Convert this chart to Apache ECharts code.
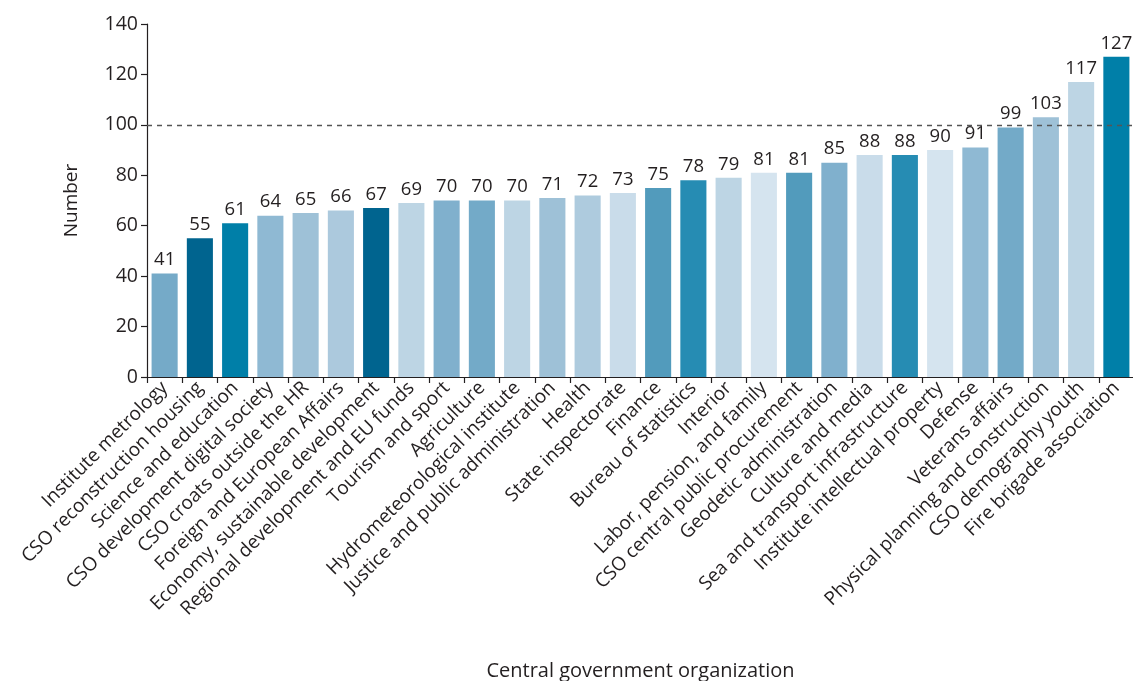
<!DOCTYPE html>
<html>
<head>
<meta charset="utf-8">
<script src="https://cdn.jsdelivr.net/npm/echarts@6/dist/echarts.min.js"></script>
<style>
  html, body { margin: 0; padding: 0; background: #ffffff; }
  #chart { width: 1133px; height: 681px; }
</style>
</head>
<body>
<div id="chart"></div>
<script>
// Staff counts per central government organization
const categories = [
  'Institute metrology',
  'CSO reconstruction housing',
  'Science and education',
  'CSO development digital society',
  'CSO croats outside the HR',
  'Foreign and European Affairs',
  'Economy, sustainable development',
  'Regional development and EU funds',
  'Tourism and sport',
  'Agriculture',
  'Hydrometeorological institute',
  'Justice and public administration',
  'Health',
  'State inspectorate',
  'Finance',
  'Bureau of statistics',
  'Interior',
  'Labor, pension, and family',
  'CSO central public procurement',
  'Geodetic administration',
  'Culture and media',
  'Sea and transport infrastructure',
  'Institute intellectual property',
  'Defense',
  'Veterans affairs',
  'Physical planning and construction',
  'CSO demography youth',
  'Fire brigade association'
];

const values = [41, 55, 61, 64, 65, 66, 67, 69, 70, 70, 70, 71, 72, 73, 75, 78, 79, 81, 81, 85, 88, 88, 90, 91, 99, 103, 117, 127];

const barColors = [
  '#75aac8', '#00648f', '#007fa8', '#8fb9d3', '#9ec1d7', '#acc9dd', '#00648f',
  '#bdd5e4', '#80b0cd', '#73aac8', '#bdd5e4', '#9ec1d7', '#aecbde', '#c9dcea',
  '#529bbc', '#268cb3', '#bdd5e4', '#d5e4ef', '#529bbc', '#80b0cd', '#c9dcea',
  '#268cb3', '#d5e4ef', '#8fb9d3', '#73aac8', '#9ec1d7', '#bdd5e4', '#007fa8'
];

const yTicks = { min: 0, max: 140, interval: 20 };
const referenceLevel = 100;

const FONT = '"Open Sans", Lato, sans-serif';
const TEXT = '#231f20';

const chart = echarts.init(document.getElementById('chart'), null, { renderer: 'canvas' });

chart.setOption({
  animation: false,
  backgroundColor: '#ffffff',
  textStyle: { fontFamily: FONT, color: TEXT },
  grid: { left: 147, right: -1, top: 24, bottom: 304, containLabel: false, outerBoundsMode: 'none' },
  xAxis: {
    type: 'category',
    data: categories,
    name: 'Central government organization',
    nameLocation: 'middle',
    nameGap: 284,
    nameTextStyle: { fontFamily: FONT, fontSize: 20, color: TEXT },
    axisLine: { show: true, lineStyle: { color: '#231f20', width: 1.2 } },
    axisTick: { show: true, alignWithLabel: false, length: 6, lineStyle: { color: '#231f20', width: 1.2 } },
    axisLabel: {
      interval: 0,
      rotate: 45,
      margin: 8,
      fontFamily: FONT,
      fontSize: 19,
      color: TEXT
    }
  },
  yAxis: {
    type: 'value',
    min: yTicks.min,
    max: yTicks.max,
    interval: yTicks.interval,
    name: 'Number',
    nameLocation: 'middle',
    nameGap: 66,
    nameRotate: 90,
    nameTextStyle: { fontFamily: FONT, fontSize: 19, color: TEXT },
    axisLine: { show: true, lineStyle: { color: '#231f20', width: 1.2 } },
    axisTick: { show: true, length: 6, lineStyle: { color: '#231f20', width: 1.2 } },
    axisLabel: { fontFamily: FONT, fontSize: 19.5, color: TEXT, margin: 9 },
    splitLine: { show: false }
  },
  series: [{
    type: 'bar',
    data: values.map((v, i) => ({ value: v, itemStyle: { color: barColors[i] } })),
    barCategoryGap: '26%',
    label: {
      show: true,
      position: 'top',
      distance: 4,
      fontFamily: FONT,
      fontSize: 18.5,
      color: TEXT
    },
    markLine: {
      silent: true,
      symbol: 'none',
      label: { show: false },
      lineStyle: { type: [5, 5], color: '#555555', width: 1.3 },
      data: [{ yAxis: referenceLevel }]
    }
  }]
});
</script>
</body>
</html>
